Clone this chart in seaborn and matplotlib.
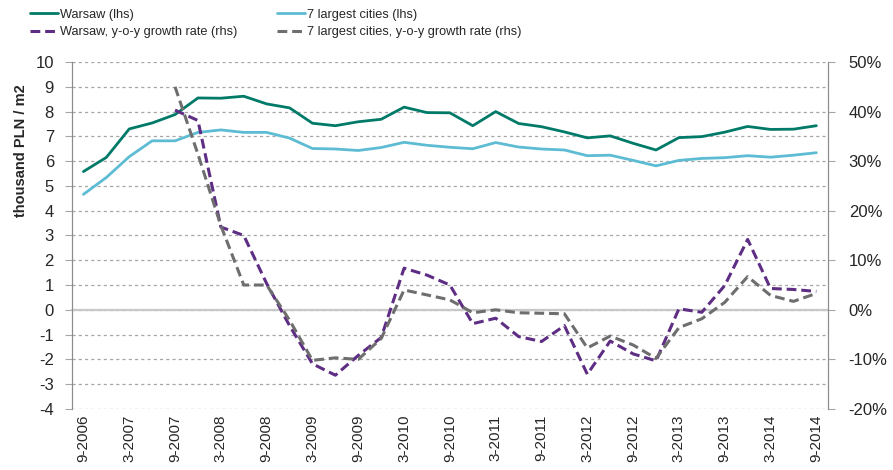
import numpy as np
import pandas as pd
import matplotlib.pyplot as plt
import seaborn as sns
from matplotlib.ticker import FuncFormatter

# quarterly data, 9-2006 .. 9-2014
quarters = list(range(33))
tick_labels = ['9-2006', '3-2007', '9-2007', '3-2008', '9-2008', '3-2009', '9-2009',
               '3-2010', '9-2010', '3-2011', '9-2011', '3-2012', '9-2012', '3-2013',
               '9-2013', '3-2014', '9-2014']

warsaw = [5.58, 6.15, 7.30, 7.54, 7.88, 8.55, 8.54, 8.62, 8.31, 8.15, 7.53, 7.43,
          7.59, 7.69, 8.18, 7.96, 7.95, 7.43, 8.00, 7.52, 7.39, 7.18, 6.94, 7.02,
          6.72, 6.45, 6.95, 6.99, 7.17, 7.40, 7.28, 7.29, 7.43]
cities7 = [4.66, 5.34, 6.18, 6.82, 6.82, 7.16, 7.26, 7.16, 7.16, 6.93, 6.51, 6.49,
           6.43, 6.55, 6.76, 6.64, 6.56, 6.50, 6.75, 6.57, 6.49, 6.45, 6.22, 6.24,
           6.03, 5.81, 6.03, 6.11, 6.14, 6.22, 6.16, 6.24, 6.34]

# y-o-y growth rates (%), available from 9-2007 (quarter index 4)
growth_q = list(range(4, 33))
warsaw_g = [40.3, 38.2, 16.7, 15.0, 5.3, -3.2, -10.9, -13.2, -9.2, -5.6, 8.4, 7.0,
            5.0, -2.8, -1.7, -5.4, -6.4, -3.2, -13.0, -6.3, -8.9, -10.3, 0.2, -0.5,
            4.9, 14.2, 4.3, 4.1, 3.7]
cities7_g = [45.0, 31.4, 17.0, 5.0, 5.0, -2.1, -10.2, -9.7, -10.0, -5.8, 4.0, 3.0,
             2.0, -0.6, 0.0, -0.6, -0.7, -0.8, -7.7, -5.3, -7.1, -9.8, -3.6, -1.8,
             1.5, 6.7, 2.9, 1.7, 3.3]

levels = pd.DataFrame({'q': quarters, 'warsaw': warsaw, 'cities7': cities7})
growth = pd.DataFrame({'q': growth_q, 'warsaw_g': warsaw_g, 'cities7_g': cities7_g})

sns.set_style('white')
plt.rcParams['font.family'] = ['Liberation Sans', 'DejaVu Sans']
plt.rcParams['font.size'] = 11
plt.rcParams['axes.unicode_minus'] = False

c_warsaw = '#007A68'
c_cities = '#5DBCD3'
c_warsaw_g = '#5E2D84'
c_cities_g = '#6E6E6E'
axis_col = '#8C8C8C'

fig = plt.figure(figsize=(8.93, 4.70), dpi=100)
ax = fig.add_axes([0.0806, 0.13, 0.8464, 0.738])
ax2 = ax.twinx()

sns.lineplot(data=levels, x='q', y='warsaw', ax=ax, color=c_warsaw, lw=2,
             label='Warsaw (lhs)')
sns.lineplot(data=levels, x='q', y='cities7', ax=ax, color=c_cities, lw=2,
             label='7 largest cities (lhs)')
sns.lineplot(data=growth, x='q', y='warsaw_g', ax=ax2, color=c_warsaw_g, lw=2.2,
             label='Warsaw, y-o-y growth rate (rhs)')
sns.lineplot(data=growth, x='q', y='cities7_g', ax=ax2, color=c_cities_g, lw=2.2,
             label='7 largest cities, y-o-y growth rate (rhs)')
for ln in ax2.get_lines():
    ln.set_dashes((3.2, 1.6))

ax.set_xlim(-0.5, 32.5)
ax.set_ylim(-4, 10)
ax.set_yticks(range(-4, 11))
ax2.set_ylim(-20, 50)
ax2.set_yticks(range(-20, 51, 10))
ax2.yaxis.set_major_formatter(FuncFormatter(lambda v, p: f'{v:.0f}%'))

ax.grid(axis='y', color='#A6A6A6', ls=(0, (2.5, 2.5)), lw=0.9)
ax.set_axisbelow(True)

# category axis crossing at zero, ticks between categories
ax.spines['bottom'].set_position(('data', 0))
ax.spines['bottom'].set_color('#C8C8C8')
ax.spines['bottom'].set_linewidth(1.6)
ax.set_xticks(np.arange(-0.5, 33, 1))
ax.tick_params(axis='x', length=5, width=1, color='#A6A6A6', labelbottom=False)

sec = ax.secondary_xaxis('bottom')
sec.set_xticks(range(0, 33, 2), labels=tick_labels)
sec.spines['bottom'].set_visible(False)
sec.tick_params(length=0, pad=4, labelsize=11, labelrotation=90)

for a in (ax, ax2):
    a.spines['top'].set_visible(False)
    a.spines['left'].set_color(axis_col)
    a.spines['right'].set_color(axis_col)
    a.set_xlabel('')
ax2.spines['bottom'].set_visible(False)
ax.tick_params(axis='y', length=5, color='#A6A6A6', pad=8, labelsize=12)
ax2.tick_params(axis='y', length=5, color='#A6A6A6', pad=10, labelsize=12)

ax.set_ylabel('thousand PLN / m2', fontweight='bold', fontsize=10.5)
ax.yaxis.set_label_coords(-0.058, 0.744)
ax2.set_ylabel('')

h1, l1 = ax.get_legend_handles_labels()
h2, l2 = ax2.get_legend_handles_labels()
ax.get_legend().remove()
ax2.get_legend().remove()
handles = [h1[0], h2[0], h1[1], h2[1]]
labels = [l1[0], l2[0], l1[1], l2[1]]
fig.legend(handles, labels, ncol=2, loc='upper left', bbox_to_anchor=(0.0336, 0.981),
           frameon=False, fontsize=9.2, handlelength=2.2, handletextpad=0.16,
           columnspacing=3.1, labelspacing=0.42, borderpad=0, borderaxespad=0)

fig.savefig('out.png', dpi=100)
